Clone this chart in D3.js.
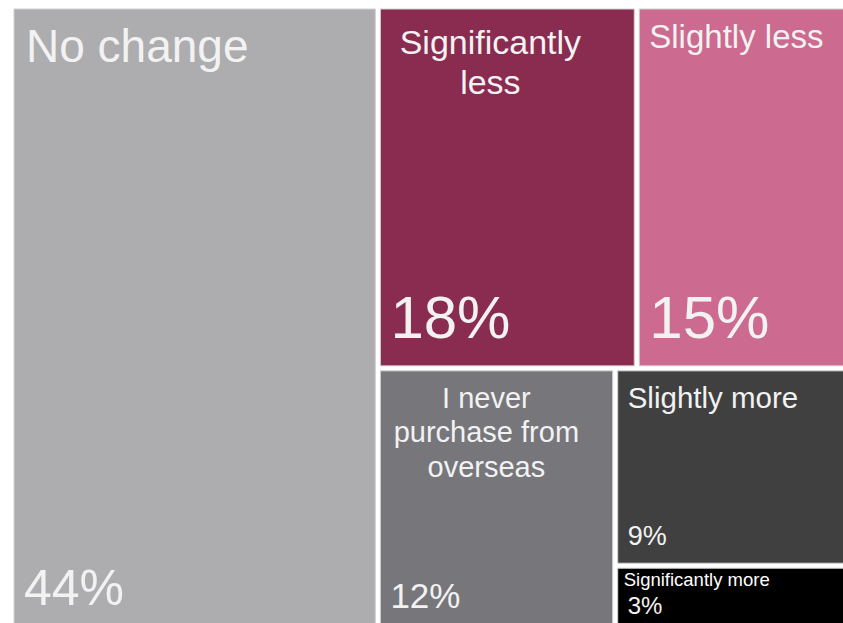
<!DOCTYPE html>
<html>
<head>
<meta charset="utf-8">
<script src="https://cdn.jsdelivr.net/npm/d3@7"></script>
<style>
  body { margin: 0; background: #fff; }
  svg { display: block; }
  text { font-family: "Liberation Sans", Arial, sans-serif; }
</style>
</head>
<body>
<svg id="chart" width="843" height="623"></svg>
<script>
// answer categories, share of respondents (%)
var categories = ["No change", "Significantly less", "Slightly less",
                  "I never purchase from overseas", "Slightly more", "Significantly more"];
var values = [44, 18, 15, 12, 9, 3];
var colors = ["#adadaf", "#8a2b50", "#cc6a8f", "#77767b", "#404040", "#000000"];
// which block each category sits in
var groups = ["left", "top", "top", "bottom", "bottomRight", "bottomRight"];

var svg = d3.select("#chart");

// nest: root -> [no change, right -> [top, bottom -> [never, bottomRight]]]
function leaf(i) { return { name: categories[i], value: values[i], idx: i }; }
function pick(g) { return d3.range(categories.length).filter(i => groups[i] == g).map(leaf); }

var tree = {
  name: "root",
  children: [
    pick("left")[0],
    { name: "right", children: [
        { name: "top", children: pick("top") },
        { name: "bottom", children: pick("bottom").concat([
            { name: "bottomRight", children: pick("bottomRight") }
        ]) }
    ] }
  ]
};

// order stays as in the picture (no sort)
var root = d3.hierarchy(tree).sum(d => d.value ? d.value : 0);

d3.treemap()
  .tile(d3.treemapSliceDice)
  .size([836, 620])
  .paddingInner(5)(root);

var g = svg.append("g").attr("transform", "translate(14,9)");

var color = d3.scaleOrdinal().domain(categories).range(colors);

var cells = g.selectAll("g.cell")
  .data(root.leaves())
  .enter()
  .append("g")
  .attr("class", "cell")
  .attr("transform", d => "translate(" + d.x0 + "," + d.y0 + ")");

cells.append("rect")
  .attr("width", d => d.x1 - d.x0)
  .attr("height", d => d.y1 - d.y0)
  .attr("fill", d => color(d.data.name))
  .attr("stroke", "#d2d2d2")
  .attr("stroke-width", 1);

// label settings per cell (lines, size, anchor, offsets)
var labelStyle = {
  "No change": { lines: ["No change"], size: 46, x: 12, y: 53, anchor: "start", lh: 0,
                 pSize: 50, px: 10, py: 596 },
  "Significantly less": { lines: ["Significantly", "less"], size: 34, x: 110, y: 45, anchor: "middle", lh: 40,
                 pSize: 60, px: 10, py: 329 },
  "Slightly less": { lines: ["Slightly less"], size: 33, x: 10, y: 39, anchor: "start", lh: 0,
                 pSize: 60, px: 10, py: 329 },
  "I never purchase from overseas": { lines: ["I never", "purchase from", "overseas"], size: 29, x: 106, y: 37, anchor: "middle", lh: 34.5,
                 pSize: 35, px: 10, py: 237 },
  "Slightly more": { lines: ["Slightly more"], size: 29.5, x: 10, y: 37, anchor: "start", lh: 0,
                 pSize: 27, px: 10, py: 174 },
  "Significantly more": { lines: ["Significantly more"], size: 18.5, x: 6, y: 18, anchor: "start", lh: 0,
                 pSize: 24, px: 10, py: 46, fill: "#ffffff" }
};

cells.each(function(d) {
  var s = labelStyle[d.data.name];
  var c = d3.select(this);
  var t = c.append("text")
    .attr("fill", s.fill || "#f2f2f2")
    .attr("font-size", s.size)
    .attr("text-anchor", s.anchor);
  s.lines.forEach(function(line, i) {
    t.append("tspan")
      .attr("x", s.x)
      .attr("y", s.y + i * s.lh)
      .text(line);
  });
  c.append("text")
    .attr("fill", "#f2f2f2")
    .attr("font-size", s.pSize)
    .attr("x", s.px)
    .attr("y", s.py)
    .text(d.data.value + "%");
});
</script>
</body>
</html>
